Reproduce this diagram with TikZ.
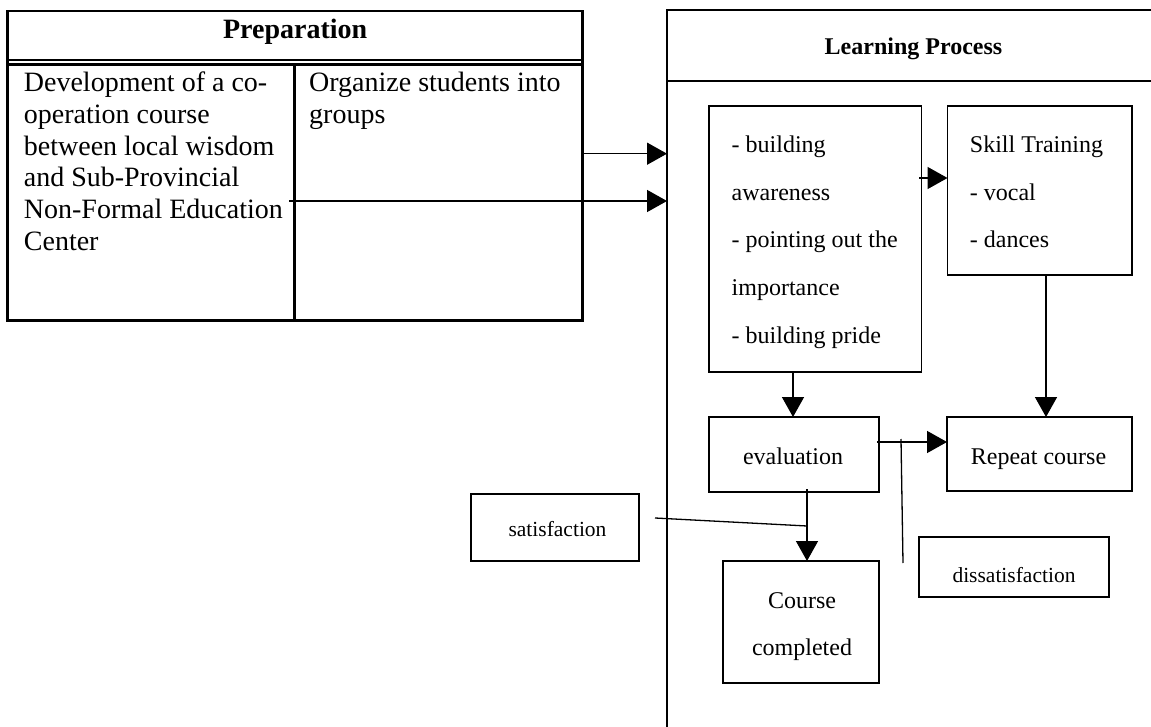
\documentclass[tikz,border=0pt]{standalone}
\usepackage{fontspec}
\setmainfont{Liberation Serif}
\usetikzlibrary{arrows.meta}

\tikzset{
  box/.style={draw, line width=1.4pt, inner sep=0pt, outer sep=0pt},
  heavybox/.style={draw, line width=2.6pt, inner sep=0pt, outer sep=0pt},
  thinline/.style={line width=1.3pt},
  arr/.style={-{Triangle[length=20pt,width=22pt]}, line width=1.5pt},
  bigtxt/.style={inner sep=0pt, anchor=base west, font=\fontsize{28}{32}\selectfont},
  txt/.style={inner sep=0pt, anchor=base west, font=\fontsize{24}{28}\selectfont},
  ctxt/.style={inner sep=0pt, anchor=base, font=\fontsize{24}{28}\selectfont},
  smalltxt/.style={inner sep=0pt, anchor=base, font=\fontsize{21.5}{25}\selectfont},
}

\begin{document}
\begin{tikzpicture}[x=1pt, y=-1pt]
  \clip (0,0) rectangle (1151,727);
  \fill[white] (0,0) rectangle (1151,727);

  % ---------- Preparation table ----------
  \node[heavybox, minimum width=574.8pt, minimum height=309.7pt] (prep) at (295.1,165.85) {};
  \draw[line width=2.4pt] (prep.west |- 0,60.3) -- (prep.east |- 0,60.3);
  \draw[line width=2.4pt] (prep.west |- 0,64.6) -- (prep.east |- 0,64.6);
  \draw[line width=2.6pt] (294.7,64.6) -- (prep.south -| 294.7,0);
  \node[inner sep=0pt, anchor=base, font=\fontsize{28}{32}\selectfont\bfseries] (preptitle) at (295.1,38.5) {Preparation};

  \node[bigtxt] (d1) at (23.7,91.7)  {Development of a co-};
  \node[bigtxt] (d2) at (23.7,123.4) {operation course};
  \node[bigtxt] (d3) at (23.7,155.1) {between local wisdom};
  \node[bigtxt] (d4) at (23.7,186.8) {and Sub-Provincial};
  \node[bigtxt] (d5) at (23.7,218.5) {Non-Formal Education};
  \node[bigtxt] (d6) at (23.7,250.2) {Center};
  \node[bigtxt] (g1) at (309,91.7)  {Organize students into};
  \node[bigtxt] (g2) at (309,123.4) {groups};

  % ---------- Learning Process frame ----------
  \node[draw, line width=1.3pt, inner sep=0pt, outer sep=0pt,
        minimum width=492pt, minimum height=760pt] (learn) at (913,390) {};
  \draw[thinline] (learn.west |- 0,81) -- (learn.east |- 0,81);
  \node[inner sep=0pt, anchor=base, font=\fontsize{24}{28}\selectfont\bfseries] (learntitle) at (913.5,55) {Learning Process};

  % ---------- Inner boxes ----------
  \node[box, minimum width=212.5pt, minimum height=266pt] (aware)  at (815.25,239)   {};
  \node[box, minimum width=184.5pt, minimum height=169pt] (skill)  at (1039.75,190.5) {};
  \node[box, minimum width=170pt,   minimum height=75pt]  (eval)   at (794,454.5)    {};
  \node[box, minimum width=185pt,   minimum height=74pt]  (repeat) at (1039.5,454)   {};
  \node[box, minimum width=168pt,   minimum height=67pt]  (sat)    at (555,527.5)    {};
  \node[box, minimum width=190pt,   minimum height=60pt]  (dissat) at (1014,567)     {};
  \node[box, minimum width=156pt,   minimum height=122pt] (done)   at (801,622)      {};

  % ---------- Box texts ----------
  \node[txt] (a1) at (731.5,153) {- building};
  \node[txt] (a2) at (731.5,200.5) {awareness};
  \node[txt] (a3) at (731.5,248) {- pointing out the};
  \node[txt] (a4) at (731.5,296) {importance};
  \node[txt] (a5) at (731.5,343) {- building pride};

  \node[txt] (s1) at (969.7,153) {Skill Training};
  \node[txt] (s2) at (969.7,200.5) {- vocal};
  \node[txt] (s3) at (969.7,248) {- dances};

  \node[ctxt] (evaltxt) at (793,464) {evaluation};
  \node[ctxt] (reptxt) at (1038.5,464) {Repeat course};
  \node[smalltxt] (sattxt) at (557.5,536) {satisfaction};
  \node[smalltxt] (distxt) at (1014,582) {dissatisfaction};
  \node[ctxt] (done1) at (802,608) {Course};
  \node[ctxt] (done2) at (802,655) {completed};

  % ---------- Connectors ----------
  \coordinate (p2start) at (289,201);
  \coordinate (satA) at (655,518);
  \coordinate (satB) at (807,526);
  \coordinate (disA) at (901,439);
  \coordinate (disB) at (903,563);

  \draw[arr] (prep.east |- 0,153.7) -- (learn.west |- 0,153.7);
  \draw[arr] (p2start) -- (learn.west |- p2start);
  \draw[arr] (919,178) -- (skill.west |- 0,178);
  \draw[arr] (aware.south -| 793,0) -- (eval.north -| 793,0);
  \draw[arr] (skill.south -| 1046,0) -- (repeat.north -| 1046,0);
  \draw[arr] (877,442) -- (repeat.west |- 0,442);
  \draw[arr] (807,489) -- (done.north -| 807,0);
  \draw[thinline] (satA) -- (satB);
  \draw[thinline] (disA) -- (disB);
\end{tikzpicture}
\end{document}
